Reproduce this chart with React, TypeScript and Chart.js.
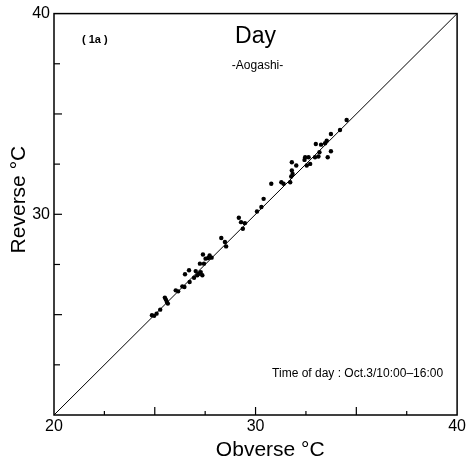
import React, { useEffect, useRef } from "react";
import { Chart, registerables } from "chart.js";

Chart.register(...registerables);

// Observed temperatures (°C)
const obverse = [
  24.86, 24.97, 25.09, 25.27, 25.5, 25.6, 25.65, 25.55, 26.04, 26.16, 26.37, 26.47,
  26.5, 26.7, 26.73, 26.95, 27.03, 27.11, 27.19, 27.28, 27.36, 27.24, 27.39, 27.44,
  27.52, 27.65, 27.72, 27.82, 28.3, 28.48, 28.54, 29.17, 29.28, 29.37, 29.47, 30.07,
  30.29, 30.4, 30.78, 31.28, 31.39, 31.72, 31.77, 31.8, 31.84, 31.8, 32.02, 32.43,
  32.46, 32.54, 32.63, 32.71, 32.95, 32.99, 33.12, 33.17, 33.25, 33.45, 33.53, 33.58,
  33.74, 33.74, 34.19, 34.52,
];
const reverse = [
  24.97, 24.94, 25.05, 25.25, 25.85, 25.63, 25.55, 25.75, 26.21, 26.16, 26.41, 26.38,
  27.01, 27.21, 26.63, 26.84, 27.17, 26.96, 27.04, 27.12, 26.96, 27.54, 28.0, 27.54,
  27.79, 27.82, 27.95, 27.84, 28.82, 28.62, 28.4, 29.83, 29.61, 29.28, 29.56, 30.14,
  30.36, 30.77, 31.52, 31.6, 31.52, 31.6, 31.88, 32.18, 32.01, 32.59, 32.43, 32.71,
  32.84, 32.43, 32.84, 32.51, 32.84, 33.5, 32.88, 33.09, 33.47, 33.54, 33.67, 32.84,
  33.14, 34.0, 34.2, 34.7,
];
// 1:1 reference line
const diagX = [20, 40];
const diagY = [20, 40];
// axis range and tick marks
const axisMin = 20;
const axisMax = 40;
const labelStep = 10;
const majorTicks = [25, 30, 35];
const minorTicks = [22.5, 27.5, 32.5, 37.5];

const FONT = "'Liberation Sans', Arial, Helvetica, sans-serif";

const decorPlugin = {
  id: "decor",
  afterDraw(chart: any) {
    const { ctx, chartArea: a, scales } = chart;
    const xs = scales.x;
    const ys = scales.y;
    ctx.save();
    // frame
    ctx.strokeStyle = "#000";
    ctx.lineWidth = 1.5;
    ctx.strokeRect(a.left, a.top, a.right - a.left, a.bottom - a.top);
    // inward ticks
    ctx.lineWidth = 1.2;
    const drawTick = (v: number, lenX: number, lenY: number) => {
      const px = xs.getPixelForValue(v);
      ctx.beginPath();
      ctx.moveTo(px, a.bottom);
      ctx.lineTo(px, a.bottom - lenX);
      ctx.stroke();
      const py = ys.getPixelForValue(v);
      ctx.beginPath();
      ctx.moveTo(a.left, py);
      ctx.lineTo(a.left + lenY, py);
      ctx.stroke();
    };
    majorTicks.forEach((v) => drawTick(v, 8, 8));
    minorTicks.forEach((v) => drawTick(v, 4, 6));

    ctx.fillStyle = "#000";
    const cx = (a.left + a.right) / 2;
    // panel label
    ctx.font = `bold 11px ${FONT}`;
    ctx.textAlign = "left";
    ctx.textBaseline = "alphabetic";
    ctx.fillText("( 1a )", a.left + 28, a.top + 29);
    // title
    ctx.font = `23px ${FONT}`;
    ctx.textAlign = "center";
    ctx.fillText("Day", cx, a.top + 29);
    ctx.font = `12px ${FONT}`;
    ctx.fillText("-Aogashi-", cx + 2, a.top + 55);
    // note
    ctx.textAlign = "right";
    ctx.font = `12px ${FONT}`;
    ctx.fillText("Time of day : Oct.3/10:00\u201316:00", a.right - 14, a.bottom - 38);

    // axis titles
    ctx.font = `21px ${FONT}`;
    ctx.textAlign = "left";
    const wx = ctx.measureText("Obverse").width;
    ctx.fillText("Obverse \u00B0C", cx - wx / 2, 456);
    const cy = (a.top + a.bottom) / 2;
    const wy = ctx.measureText("Reverse").width;
    ctx.translate(25, cy);
    ctx.rotate(-Math.PI / 2);
    ctx.fillText("Reverse \u00B0C", -wy / 2, 0);
    ctx.restore();
  },
};

export default function App() {
  const ref = useRef<HTMLCanvasElement | null>(null);
  useEffect(() => {
    if (!ref.current) return;
    const chart = new Chart(ref.current, {
      type: "scatter",
      data: {
        datasets: [
          {
            data: obverse.map((x, i) => ({ x, y: reverse[i] })),
            pointRadius: 2.2,
            pointBackgroundColor: "#000",
            pointBorderWidth: 0,
          },
          {
            data: diagX.map((x, i) => ({ x, y: diagY[i] })),
            showLine: true,
            borderColor: "#000",
            borderWidth: 1,
            pointRadius: 0,
          },
        ],
      },
      options: {
        animation: false,
        responsive: false,
        devicePixelRatio: 1,
        layout: { padding: { top: 13, right: 9, left: 0, bottom: 0 } },
        plugins: { legend: { display: false }, tooltip: { enabled: false } },
        scales: {
          x: {
            type: "linear",
            min: axisMin,
            max: axisMax,
            grid: { display: false, drawTicks: false },
            border: { display: false },
            ticks: {
              stepSize: labelStep,
              padding: 2,
              color: "#000",
              maxRotation: 0,
              font: { family: FONT, size: 16 },
            },
            afterFit: (s: any) => {
              s.height = 47;
            },
          },
          y: {
            type: "linear",
            min: axisMin,
            max: axisMax,
            grid: { display: false, drawTicks: false },
            border: { display: false },
            ticks: {
              stepSize: labelStep,
              padding: 4,
              color: "#000",
              font: { family: FONT, size: 16 },
              callback: (v: any) => (v === axisMin ? "" : String(v)),
            },
            afterFit: (s: any) => {
              s.width = 54;
            },
          },
        },
      },
      plugins: [decorPlugin],
    });
    return () => chart.destroy();
  }, []);
  return (
    <div style={{ position: "absolute", left: 0, top: 0, width: 468, height: 462, background: "#fff" }}>
      <canvas ref={ref} width={468} height={462} style={{ display: "block" }} />
    </div>
  );
}
